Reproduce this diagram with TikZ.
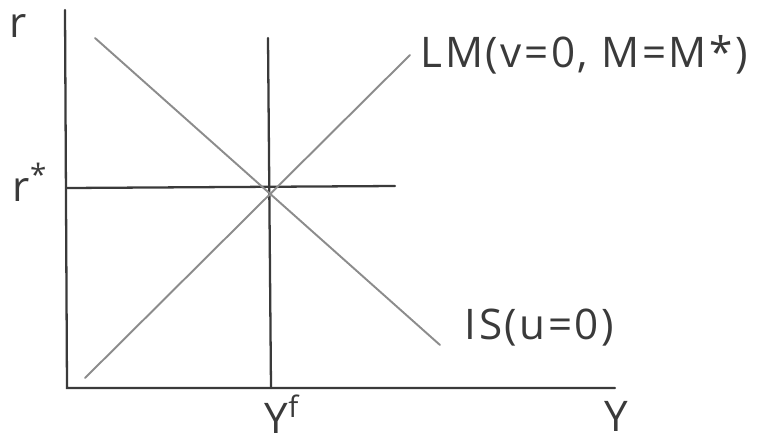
\documentclass[tikz,border=0pt]{standalone}
\usepackage{fontspec}
\setmainfont{Open Sans}
\usetikzlibrary{positioning}
\definecolor{cink}{HTML}{3A3A3A}
\definecolor{cpencil}{HTML}{8C8C8C}
\tikzset{
  every picture/.style={line width=1.3pt, line cap=round},
  axisline/.style={draw=cink},
  curve/.style={draw=cpencil, line width=1.1pt},
  lab/.style={text=cink, font=\fontsize{24}{28}\selectfont\addfontfeatures{LetterSpace=6}, inner sep=1pt},
}
\begin{document}
\begin{tikzpicture}[x=0.02cm, y=-0.02cm]
  \useasboundingbox (0,0) rectangle (760,444);
  % axes
  \coordinate (top) at (65,10);
  \coordinate (origin) at (67,388);
  \coordinate (right) at (615,388);
  \draw[axisline] (top) -- (origin) -- (right);
  % equilibrium lines
  \coordinate (rs) at (67,188);
  \coordinate (rsend) at (395,186);
  \draw[axisline] (rs) -- (rsend);
  \coordinate (yftop) at (268,38);
  \coordinate (yfbot) at (271,388);
  \draw[axisline] (yftop) -- (yfbot);
  % LM and IS curves
  \coordinate (lmlow) at (85,378);
  \coordinate (lmhigh) at (410,55);
  \draw[curve] (lmlow) -- (lmhigh);
  \coordinate (ishigh) at (95,38);
  \coordinate (islow) at (440,345);
  \draw[curve] (ishigh) -- (islow);
  % labels
  \node[lab] (rlab) at (18,26) {r};
  \node[lab] (rstar) at (30,182) {r\textsuperscript{*}};
  \node[lab, anchor=west] (lmlab) at (418,55) {LM(v=0, M=M*)};
  \node[lab, anchor=west] (islab) at (462,328) {IS(u=0)};
  \node[lab] (yflab) at (282,414) {Y\textsuperscript{f}};
  \node[lab] (ylab) at (616,416) {Y};
\end{tikzpicture}
\end{document}
